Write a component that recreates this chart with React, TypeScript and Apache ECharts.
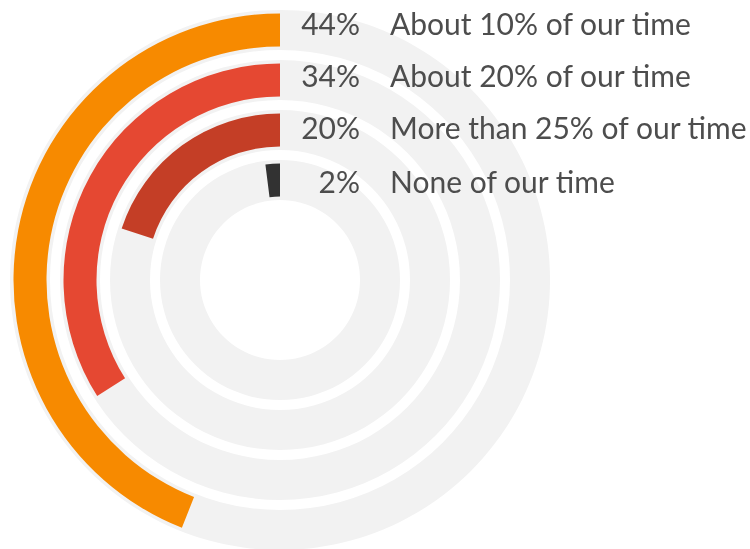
import React, { useEffect, useRef } from "react";
import * as echarts from "echarts";

// inner ring first, outer ring last
const categories = [
  "None of our time",
  "More than 25% of our time",
  "About 20% of our time",
  "About 10% of our time",
];
const values = [2, 20, 34, 44];
const barColors = ["#323232", "#C43E26", "#E54832", "#F78A00"];
const trackValues = [100, 100, 100, 100];

const FONT = "Lato, 'Open Sans', sans-serif";
// small vertical nudges of each label row (style only)
const rowPadding = [
  [2, 0, 0, 0],
  [0, 0, 6, 0],
  [0, 0, 10, 0],
  [0, 0, 14, 0],
];

export default function App() {
  const ref = useRef<HTMLDivElement>(null);
  useEffect(() => {
    if (!ref.current) return;
    const chart = echarts.init(ref.current, null, { renderer: "svg" });
    const polarBase = { center: [280, 280], radius: [75, 275] };
    const angleAxisBase = {
      type: "value",
      min: 0,
      max: 100,
      startAngle: 90,
      clockwise: false,
      show: false,
    };
    const radiusAxisBase = {
      type: "category",
      data: categories,
      z: 10,
      axisLine: { show: false },
      axisTick: { show: false },
      splitLine: { show: false },
    };
    const textStyle = {
      fontFamily: FONT,
      fontSize: 30,
      fontWeight: 400,
      color: "#4d4d4d",
    };
    const rich: Record<string, any> = {};
    rowPadding.forEach((p, i) => {
      rich["r" + i] = { ...textStyle, padding: p };
    });
    const labelText = {
      ...textStyle,
      interval: 0,
      verticalAlign: "middle",
      rich,
    };
    chart.setOption({
      animation: false,
      polar: [polarBase, { ...polarBase }],
      angleAxis: [
        { ...angleAxisBase, polarIndex: 0 },
        { ...angleAxisBase, polarIndex: 1 },
      ],
      radiusAxis: [
        {
          ...radiusAxisBase,
          polarIndex: 0,
          axisLabel: {
            ...labelText,
            margin: -80,
            align: "right",
            formatter: (_v: string, i: number) =>
              "{r" + i + "|" + values[i] + "%}",
          },
        },
        {
          ...radiusAxisBase,
          polarIndex: 1,
          axisLabel: {
            ...labelText,
            margin: -110,
            align: "left",
            formatter: (v: string, i: number) => "{r" + i + "|" + v + "}",
          },
        },
      ],
      series: [
        {
          type: "bar",
          coordinateSystem: "polar",
          polarIndex: 0,
          barWidth: 40,
          silent: true,
          itemStyle: { color: "#f2f2f2" },
          data: trackValues,
        },
        {
          type: "bar",
          coordinateSystem: "polar",
          polarIndex: 1,
          barWidth: 33,
          silent: true,
          data: values.map((v, i) => ({
            value: v,
            itemStyle: { color: barColors[i] },
          })),
        },
      ],
    });
    return () => chart.dispose();
  }, []);
  return (
    <div
      ref={ref}
      style={{ position: "fixed", left: 0, top: 0, width: 750, height: 549 }}
    />
  );
}
